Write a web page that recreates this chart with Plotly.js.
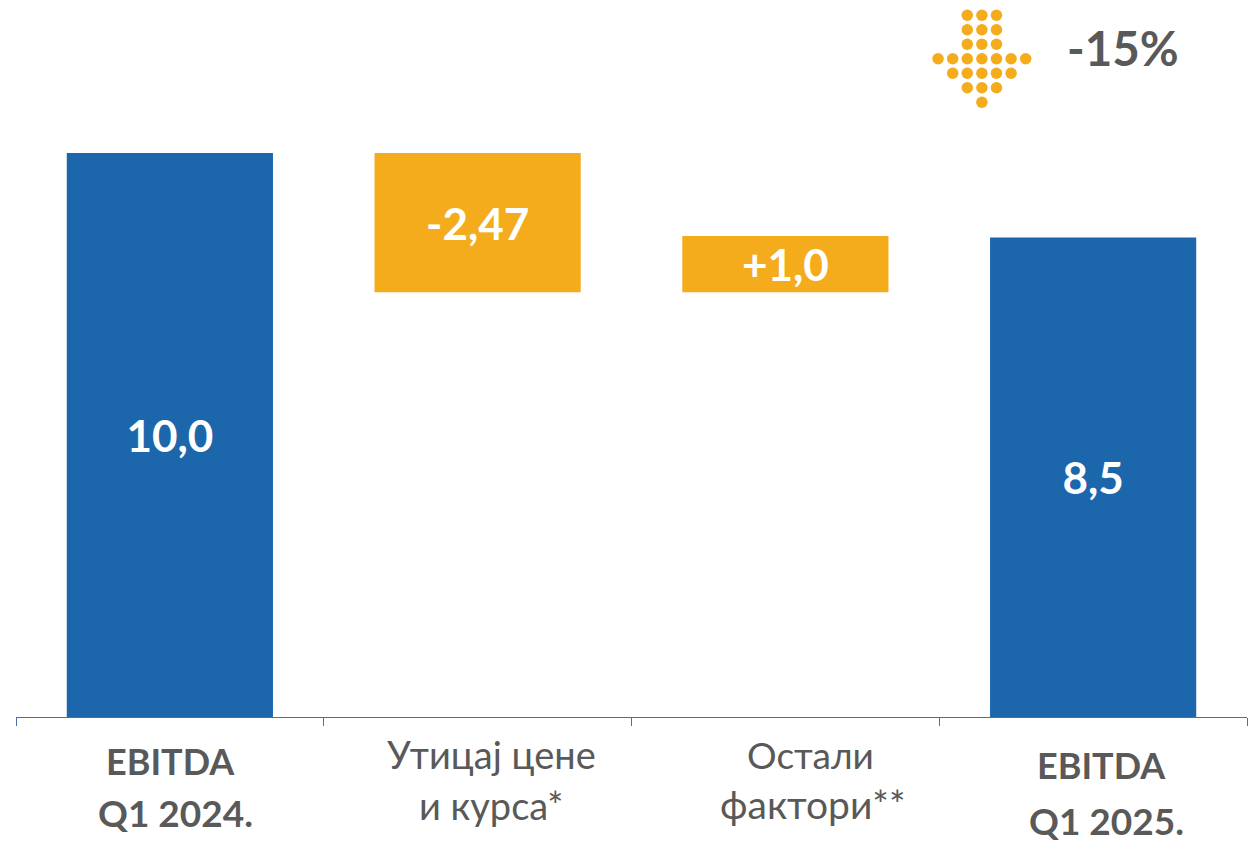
<!DOCTYPE html>
<html>
<head>
<meta charset="utf-8">
<script src="https://cdn.plot.ly/plotly-3.0.1.min.js"></script>
<style>html,body{margin:0;padding:0;background:#fff;overflow:hidden}</style>
</head>
<body>
<div id="chart" style="width:1253px;height:843px"></div>
<script>
const categories = ["EBITDA Q1 2024.", "Утицај цене и курса*", "Остали фактори**", "EBITDA Q1 2025."];
const barBases = [0, 7.53, 7.53, 0];
const barHeights = [10.0, 2.47, 1.0, 8.5];
const barLabels = ["10,0", "-2,47", "+1,0", "8,5"];
const barColors = ["#1C66AC", "#F4AC1C", "#F4AC1C", "#1C66AC"];
const arrowCols = [-1,0,1, -1,0,1, -1,0,1, -3,-2,-1,0,1,2,3, -2,-1,0,1,2, -1,0,1, 0];
const arrowRows = [0,0,0, 1,1,1, 2,2,2, 3,3,3,3,3,3,3, 4,4,4,4,4, 5,5,5, 6];
const changeLabel = "-15%";
const labelCategory = [0, 0, 1, 1, 2, 2, 3, 3];
const labelText = ["<b>EBITDA</b>", "<b>Q1 2024.</b>", "Утицај цене", "и курса*", "Остали", "фактори**", "<b>EBITDA</b>", "<b>Q1 2025.</b>"];

// Layout of the page: pixel placement of the labels below the axis
const labelPageY = [761, 812, 754, 805, 754, 804, 765, 820];
const labelShiftX = [1, 6, 14, 14, 25, 28, 8, 13];
const labelSize = [36, 37, 38, 38, 37, 39, 36, 37];
const FONT = "Lato, 'Noto Sans', sans-serif";
const GREY = "#595959";
const H = 843, BASE = 717, PX_PER_UNIT = 56.4;

const traces = [
  {
    type: "bar",
    x: categories,
    y: barHeights,
    base: barBases,
    width: 0.67,
    marker: {color: barColors, line: {width: 0}},
    text: barLabels,
    textposition: "inside",
    insidetextanchor: "middle",
    textangle: 0,
    constraintext: "none",
    textfont: {family: FONT, size: 44, color: "#FFFFFF", weight: 700},
    hoverinfo: "skip"
  },
  {
    type: "scatter",
    mode: "markers",
    x: arrowCols,
    y: arrowRows,
    xaxis: "x2",
    yaxis: "y2",
    marker: {color: "#F4AC1C", size: 11.5, line: {width: 0}},
    cliponaxis: false,
    hoverinfo: "skip"
  }
];

const layout = {
  width: 1253,
  height: H,
  margin: {l: 16, r: 6, t: 0, b: H - BASE, pad: 0},
  paper_bgcolor: "#FFFFFF",
  plot_bgcolor: "#FFFFFF",
  showlegend: false,
  font: {family: FONT, color: GREY},
  xaxis: {
    type: "category",
    categoryorder: "array",
    categoryarray: categories,
    tickson: "boundaries",
    ticks: "outside",
    ticklen: 8,
    tickwidth: 1,
    tickcolor: "#3F73B0",
    showline: true,
    linecolor: "#3F73B0",
    linewidth: 1,
    showgrid: false,
    showticklabels: false,
    zeroline: false,
    fixedrange: true
  },
  yaxis: {
    range: [0, BASE / PX_PER_UNIT],
    visible: false,
    showgrid: false,
    zeroline: false,
    fixedrange: true
  },
  xaxis2: {
    overlaying: "x",
    anchor: "y2",
    range: [-66.16, 18.16],
    visible: false,
    fixedrange: true
  },
  yaxis2: {
    overlaying: "y",
    anchor: "x2",
    side: "right",
    range: [48.4, -1.05],
    visible: false,
    fixedrange: true
  },
  annotations: labelText.map((text, i) => ({
    xref: "x",
    yref: "paper",
    x: categories[labelCategory[i]],
    xshift: labelShiftX[i],
    y: (BASE - labelPageY[i]) / BASE,
    yanchor: "middle",
    xanchor: "center",
    text: text,
    showarrow: false,
    font: {family: FONT, size: labelSize[i], color: GREY}
  })).concat([{
    xref: "paper",
    yref: "paper",
    x: (1122.5 - 16) / 1231,
    y: (BASE - 47) / BASE,
    yanchor: "middle",
    xanchor: "center",
    text: "<b>" + changeLabel + "</b>",
    showarrow: false,
    font: {family: FONT, size: 47.5, color: GREY}
  }])
};
Plotly.newPlot("chart", traces, layout, {displayModeBar: false, staticPlot: true});
</script>
</body>
</html>
